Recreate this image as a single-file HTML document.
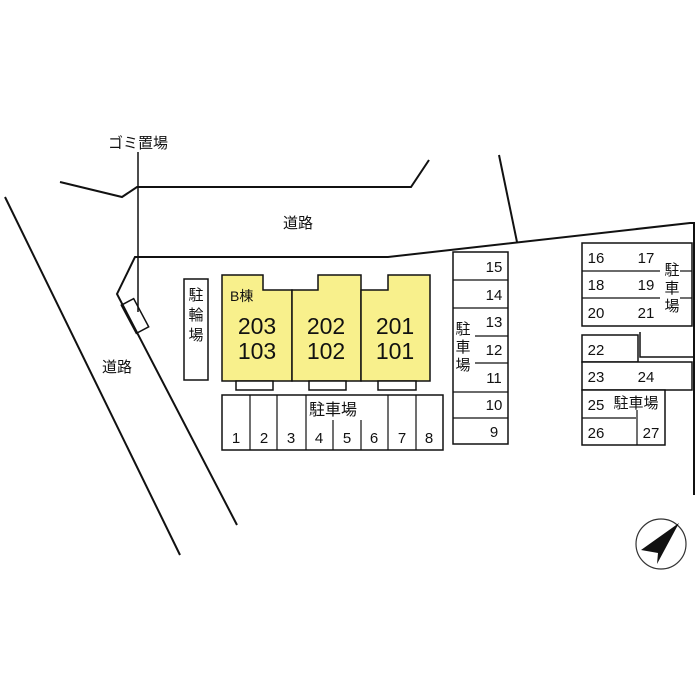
<!DOCTYPE html>
<html><head><meta charset="utf-8"><style>
html,body{margin:0;padding:0;background:#fff;width:700px;height:700px;overflow:hidden}
svg text{font-family:"Liberation Sans","Noto Sans CJK JP",sans-serif;fill:#111}
</style></head><body>
<svg width="700" height="700" viewBox="0 0 700 700" xmlns="http://www.w3.org/2000/svg">
<g stroke="#111" stroke-width="2" fill="none">
<polyline points="60,182 122,197 137,187 411,187 429,160"/>
<line x1="499" y1="155" x2="517" y2="242"/>
<polyline points="237,525 117,294 135,257 388,257 690,223 694,223 694,495"/>
<line x1="5" y1="197" x2="180" y2="555"/>
<line x1="138" y1="152" x2="138" y2="312" stroke-width="1.5"/>
<rect x="128" y="300" width="14" height="32" transform="rotate(-28 135 316)" stroke-width="1.5"/>
</g>
<g stroke="#111" stroke-width="1.5" fill="#f8f08c">
<polygon points="222,275 263,275 263,290 292,290 292,381 222,381"/>
<polygon points="292,290 318,290 318,275 361,275 361,381 292,381"/>
<polygon points="361,290 388,290 388,275 430,275 430,381 361,381"/>
</g>
<g stroke="#111" stroke-width="1.5" fill="#fff">
<rect x="236" y="381" width="37" height="9"/>
<rect x="309" y="381" width="37" height="9"/>
<rect x="378" y="381" width="38" height="9"/>
<rect x="184" y="279" width="24" height="101"/>
<rect x="222" y="395" width="221" height="55"/>
<rect x="453" y="252" width="55" height="192"/>
<rect x="582" y="243" width="110" height="83"/>
<rect x="582" y="335" width="56" height="27"/>
<rect x="582" y="362" width="110" height="28"/>
<rect x="582" y="390" width="83" height="55"/>
</g>
<g stroke="#111" stroke-width="1.2">
<line x1="250" y1="395" x2="250" y2="450"/><line x1="277" y1="395" x2="277" y2="450"/>
<line x1="306" y1="395" x2="306" y2="450"/><line x1="333" y1="420" x2="333" y2="450"/>
<line x1="361" y1="420" x2="361" y2="450"/><line x1="388" y1="395" x2="388" y2="450"/>
<line x1="416" y1="395" x2="416" y2="450"/>
<line x1="453" y1="280" x2="508" y2="280"/><line x1="453" y1="308" x2="508" y2="308"/>
<line x1="475" y1="336" x2="508" y2="336"/><line x1="475" y1="363" x2="508" y2="363"/>
<line x1="453" y1="392" x2="508" y2="392"/><line x1="453" y1="418" x2="508" y2="418"/>
<line x1="582" y1="271" x2="660" y2="271"/><line x1="680" y1="271" x2="692" y2="271"/>
<line x1="582" y1="298" x2="660" y2="298"/><line x1="680" y1="298" x2="692" y2="298"/>
<line x1="582" y1="418" x2="636" y2="418"/><line x1="637" y1="410" x2="637" y2="445"/>
</g>
<polyline points="640,332 640,357 694,357" stroke="#111" stroke-width="1.5" fill="none"/>
<g font-size="15">
<text x="108" y="148">ゴミ置場</text>
<text x="283" y="228">道路</text>
<text x="102" y="372">道路</text>
<text x="230" y="301" font-size="14">B棟</text>
</g>
<g font-size="23" text-anchor="middle">
<text x="257" y="334">203</text><text x="257" y="359">103</text>
<text x="326" y="334">202</text><text x="326" y="359">102</text>
<text x="395" y="334">201</text><text x="395" y="359">101</text>
</g>
<g font-size="15" text-anchor="middle">
<text x="196" y="300">駐</text><text x="196" y="320">輪</text><text x="196" y="340">場</text>
<text x="333" y="415" font-size="16">駐車場</text>
<text x="236" y="443">1</text><text x="264" y="443">2</text><text x="291" y="443">3</text><text x="319" y="443">4</text>
<text x="347" y="443">5</text><text x="374" y="443">6</text><text x="402" y="443">7</text><text x="429" y="443">8</text>
<text x="494" y="272">15</text><text x="494" y="300">14</text><text x="494" y="327">13</text><text x="494" y="355">12</text>
<text x="494" y="383">11</text><text x="494" y="410">10</text><text x="494" y="437">9</text>
<text x="463" y="334">駐</text><text x="463" y="352">車</text><text x="463" y="370">場</text>
<text x="596" y="263">16</text><text x="646" y="263">17</text>
<text x="596" y="290">18</text><text x="646" y="290">19</text>
<text x="596" y="318">20</text><text x="646" y="318">21</text>
<text x="672" y="275">駐</text><text x="672" y="293">車</text><text x="672" y="311">場</text>
<text x="596" y="355">22</text><text x="596" y="382">23</text><text x="646" y="382">24</text>
<text x="596" y="410">25</text><text x="636" y="408">駐車場</text>
<text x="596" y="438">26</text><text x="651" y="438">27</text>
</g>
<circle cx="661" cy="544" r="25" fill="none" stroke="#333" stroke-width="1.2"/>
<polygon points="679,523 641,550 658,553 657,564" fill="#111"/>
</svg>
</body></html>
